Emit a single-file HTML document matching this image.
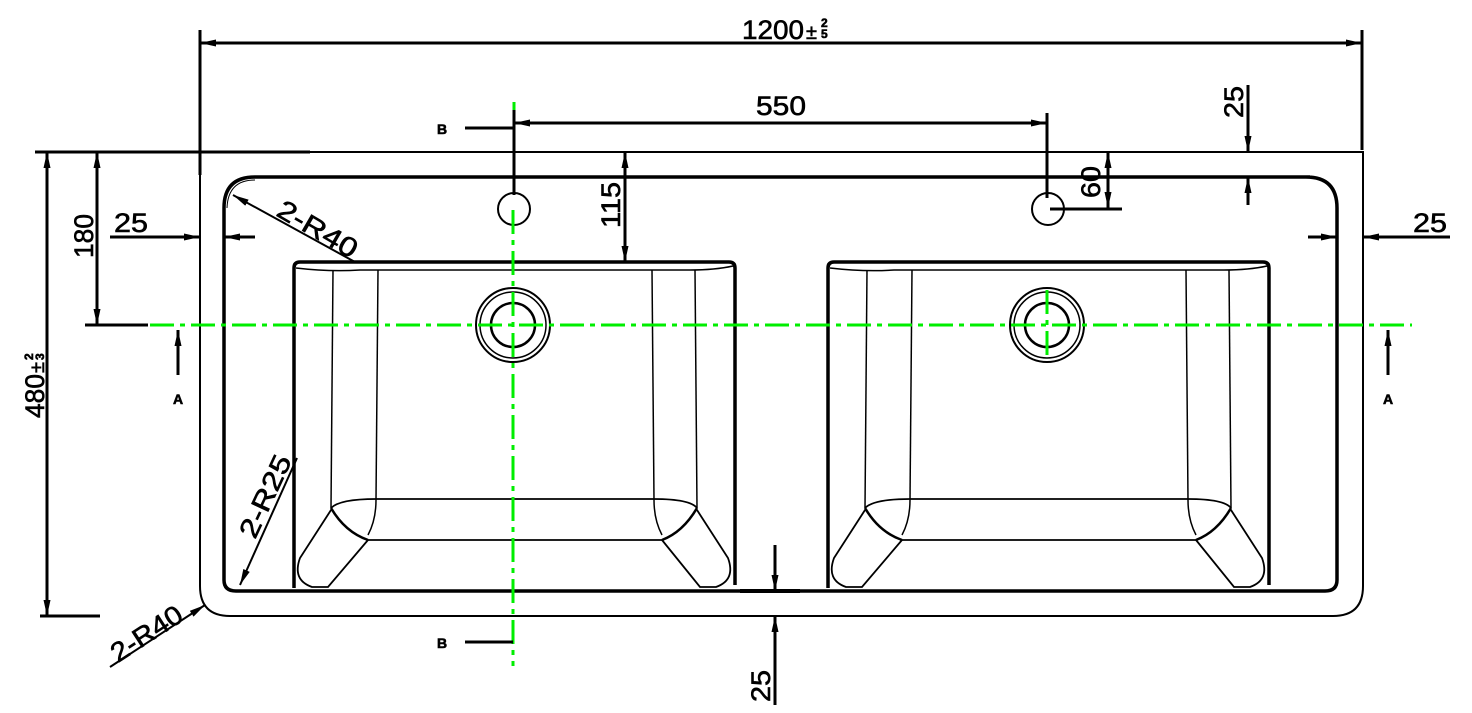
<!DOCTYPE html>
<html><head><meta charset="utf-8"><style>
html,body{margin:0;padding:0;background:#fff;}
svg{display:block;}
text{font-family:"Liberation Sans",sans-serif;fill:#000;stroke:#000;stroke-width:0.6;}
</style></head><body>
<svg width="1472" height="713" viewBox="0 0 1472 713" xmlns="http://www.w3.org/2000/svg">
<defs>
<marker id="a" viewBox="0 0 16 7" refX="16" refY="3.5" markerWidth="16" markerHeight="7" orient="auto-start-reverse" markerUnits="userSpaceOnUse"><path d="M0,0 L16,3.5 L0,7 z" fill="#000"/></marker>
<g id="basin">
 <path d="M294,588 L294,268 Q294,262 300,262 L729,262 Q735,262 735,268 L735,585" fill="none" stroke="#000" stroke-width="3.5"/>
 <path d="M296,268 Q330,272 360,270 L690,270 Q715,270 733,266" fill="none" stroke="#000" stroke-width="1.5"/>
 <line x1="333" y1="270" x2="331" y2="508" stroke="#000" stroke-width="1.5"/>
 <line x1="378" y1="270" x2="376" y2="500" stroke="#000" stroke-width="1.5"/>
 <line x1="652" y1="270" x2="654" y2="500" stroke="#000" stroke-width="1.5"/>
 <line x1="695" y1="270" x2="697" y2="508" stroke="#000" stroke-width="1.5"/>
 <path d="M331,508 Q340,499 376,499 L654,499 Q690,499 697,508" fill="none" stroke="#000" stroke-width="1.8"/>
 <path d="M368,540 L662,540" fill="none" stroke="#000" stroke-width="1.8"/>
 <path d="M376,500 Q376,520 368,535" fill="none" stroke="#000" stroke-width="1.5"/>
 <path d="M654,500 Q654,520 662,535" fill="none" stroke="#000" stroke-width="1.5"/>
 <path d="M331,508 Q345,532 368,540" fill="none" stroke="#000" stroke-width="2.5"/>
 <path d="M697,508 Q683,532 662,540" fill="none" stroke="#000" stroke-width="2.5"/>
 <path d="M331,510 L300,558 Q292,580 312,587 L328,587 L368,540" fill="none" stroke="#000" stroke-width="1.8"/>
 <path d="M697,510 L728,558 Q736,580 716,587 L700,587 L662,540" fill="none" stroke="#000" stroke-width="1.8"/>
 <circle cx="513" cy="325" r="37" fill="none" stroke="#000" stroke-width="2"/>
 <circle cx="513" cy="325" r="33" fill="none" stroke="#000" stroke-width="1.5"/>
 <circle cx="513" cy="325" r="22" fill="none" stroke="#000" stroke-width="2.5"/>
 <circle cx="514" cy="209" r="16" fill="none" stroke="#000" stroke-width="2"/>
</g>
</defs>

<path d="M200,152 L1363,152 L1363,586 Q1363,616 1333,616 L230,616 Q200,616 200,586 Z" fill="none" stroke="#000" stroke-width="2"/>
<line x1="35" y1="152" x2="310" y2="152" stroke="#000" stroke-width="3"/>
<path d="M1310,177 L255,177 Q224,177 224,208 L224,580 Q224,591 236,591 L1325,591 Q1337,591 1337,580 L1337,208 Q1337,177 1306,177" fill="none" stroke="#000" stroke-width="3.5"/>
<path d="M255,180 Q228,180 227,208" fill="none" stroke="#000" stroke-width="1"/>

<use href="#basin"/>
<use href="#basin" transform="translate(534,0)"/>

<g stroke="#0e0" stroke-width="3" stroke-dasharray="24,6,5,6">
<line x1="150" y1="325" x2="1412" y2="325"/>
<line x1="513" y1="210" x2="513" y2="666"/>
<line x1="1047" y1="290" x2="1047" y2="360"/>
<line x1="514" y1="102" x2="514" y2="150"/>
</g>

<g stroke="#000" stroke-width="3" fill="none">
<line x1="200" y1="30" x2="200" y2="175"/>
<line x1="1362" y1="30" x2="1362" y2="150"/>
<line x1="200" y1="43" x2="1362" y2="43" marker-start="url(#a)" marker-end="url(#a)"/>
<line x1="514" y1="110" x2="514" y2="195"/>
<line x1="1047" y1="113" x2="1047" y2="198"/>
<line x1="514" y1="123" x2="1047" y2="123" marker-start="url(#a)" marker-end="url(#a)"/>
<line x1="465" y1="128" x2="514" y2="128"/>
<line x1="465" y1="642" x2="513" y2="642"/>
<line x1="625" y1="152" x2="625" y2="262" marker-start="url(#a)" marker-end="url(#a)"/>
<line x1="1108" y1="152" x2="1108" y2="208" marker-start="url(#a)" marker-end="url(#a)"/>
<line x1="1050" y1="209" x2="1122" y2="209"/>
<line x1="1248" y1="85" x2="1248" y2="152" marker-end="url(#a)"/>
<line x1="1248" y1="205" x2="1248" y2="177" marker-end="url(#a)"/>
<line x1="1308" y1="237" x2="1337" y2="237" marker-end="url(#a)"/>
<line x1="1450" y1="237" x2="1363" y2="237" marker-end="url(#a)"/>
<line x1="110" y1="237" x2="200" y2="237" marker-end="url(#a)"/>
<line x1="255" y1="237" x2="224" y2="237" marker-end="url(#a)"/>
<line x1="97" y1="152" x2="97" y2="325" marker-start="url(#a)" marker-end="url(#a)"/>
<line x1="85" y1="325" x2="148" y2="325"/>
<line x1="47" y1="152" x2="47" y2="616" marker-start="url(#a)" marker-end="url(#a)"/>
<line x1="40" y1="616" x2="100" y2="616"/>
<line x1="178" y1="375" x2="178" y2="330" marker-end="url(#a)"/>
<line x1="1388" y1="375" x2="1388" y2="330" marker-end="url(#a)"/>
<line x1="775" y1="545" x2="775" y2="591" marker-end="url(#a)"/>
<line x1="775" y1="705" x2="775" y2="616" marker-end="url(#a)"/>
<line x1="740" y1="591" x2="800" y2="591" stroke-width="4"/>
</g>
<g stroke="#000" stroke-width="2" fill="none">
<line x1="355" y1="262" x2="233" y2="195" marker-end="url(#a)"/>
<line x1="297" y1="458" x2="240" y2="585" marker-end="url(#a)"/>
<line x1="110" y1="667" x2="205" y2="605" marker-end="url(#a)"/>
</g>

<g font-size="27">
<text x="742" y="39" textLength="62" lengthAdjust="spacingAndGlyphs">1200</text>
<text x="806" y="39" font-size="20">±</text>
<text x="821" y="27" font-size="12" font-weight="bold">2</text>
<text x="821" y="38" font-size="12" font-weight="bold">5</text>
<text x="756" y="115" textLength="50" lengthAdjust="spacingAndGlyphs">550</text>
<text x="114" y="232" textLength="34" lengthAdjust="spacingAndGlyphs">25</text>
<text x="1413" y="232" textLength="34" lengthAdjust="spacingAndGlyphs">25</text>
<text transform="translate(93,258) rotate(-90)" textLength="44" lengthAdjust="spacingAndGlyphs">180</text>
<text transform="translate(44,418) rotate(-90)" textLength="44" lengthAdjust="spacingAndGlyphs">480</text>
<text transform="translate(44,373) rotate(-90)" font-size="20">±</text>
<text transform="translate(33,360) rotate(-90)" font-size="12" font-weight="bold">2</text>
<text transform="translate(44,360) rotate(-90)" font-size="12" font-weight="bold">3</text>
<text transform="translate(620,228) rotate(-90)" textLength="46" lengthAdjust="spacingAndGlyphs">115</text>
<text transform="translate(1100,198) rotate(-90)" textLength="32" lengthAdjust="spacingAndGlyphs">60</text>
<text transform="translate(1243,118) rotate(-90)" textLength="32" lengthAdjust="spacingAndGlyphs">25</text>
<text transform="translate(770,702) rotate(-90)" textLength="32" lengthAdjust="spacingAndGlyphs">25</text>
<text transform="translate(275,215) rotate(30)" textLength="88" lengthAdjust="spacingAndGlyphs">2-R40</text>
<text transform="translate(255,540) rotate(-65)" textLength="88" lengthAdjust="spacingAndGlyphs">2-R25</text>
<text transform="translate(118,663) rotate(-33)" textLength="80" lengthAdjust="spacingAndGlyphs">2-R40</text>
</g>
<g font-size="14" font-weight="bold">
<text x="437" y="134">B</text>
<text x="437" y="648">B</text>
<text x="173" y="404">A</text>
<text x="1383" y="404">A</text>
</g>
</svg>
</body></html>
